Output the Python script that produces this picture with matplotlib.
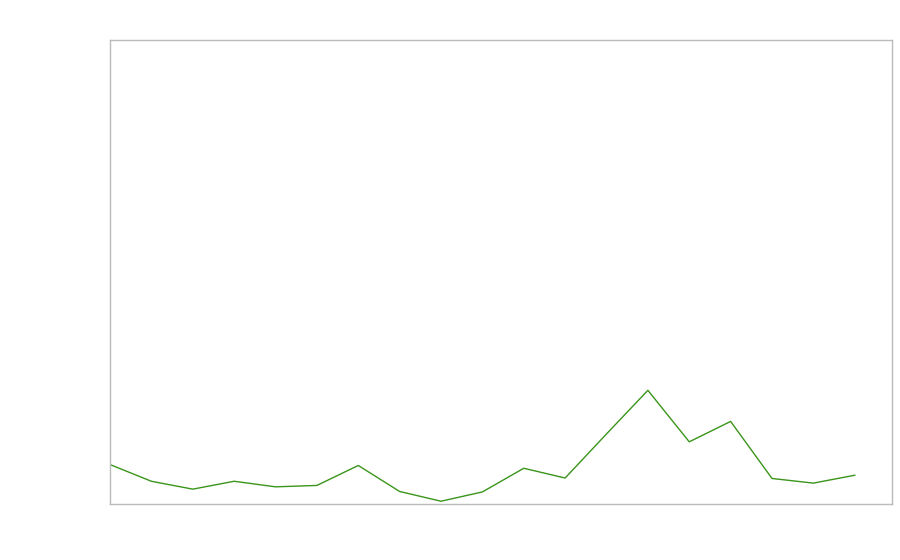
import matplotlib
matplotlib.use("Agg")
import matplotlib.pyplot as plt

x_index = list(range(19))
values = [8.5, 4.9, 3.2, 4.9, 3.7, 4.0, 8.3, 2.7, 0.6, 2.6, 7.7, 5.6, 15.1, 24.5, 13.4, 17.8, 5.5, 4.5, 6.2]

fig = plt.figure(figsize=(9, 5.6), dpi=100)
ax = fig.add_axes([110/900, 56/560, 782/900, 464/560])
ax.plot(x_index, values, color="#3a951a", lw=1.0)
ax.set_xlim(0, 18.9)
ax.set_ylim(0, 100)
ax.set_xticks([])
ax.set_yticks([])
for s in ax.spines.values():
    s.set_color("#bbbbbb")
    s.set_linewidth(1.0)
fig.savefig("out.png", dpi=100)
